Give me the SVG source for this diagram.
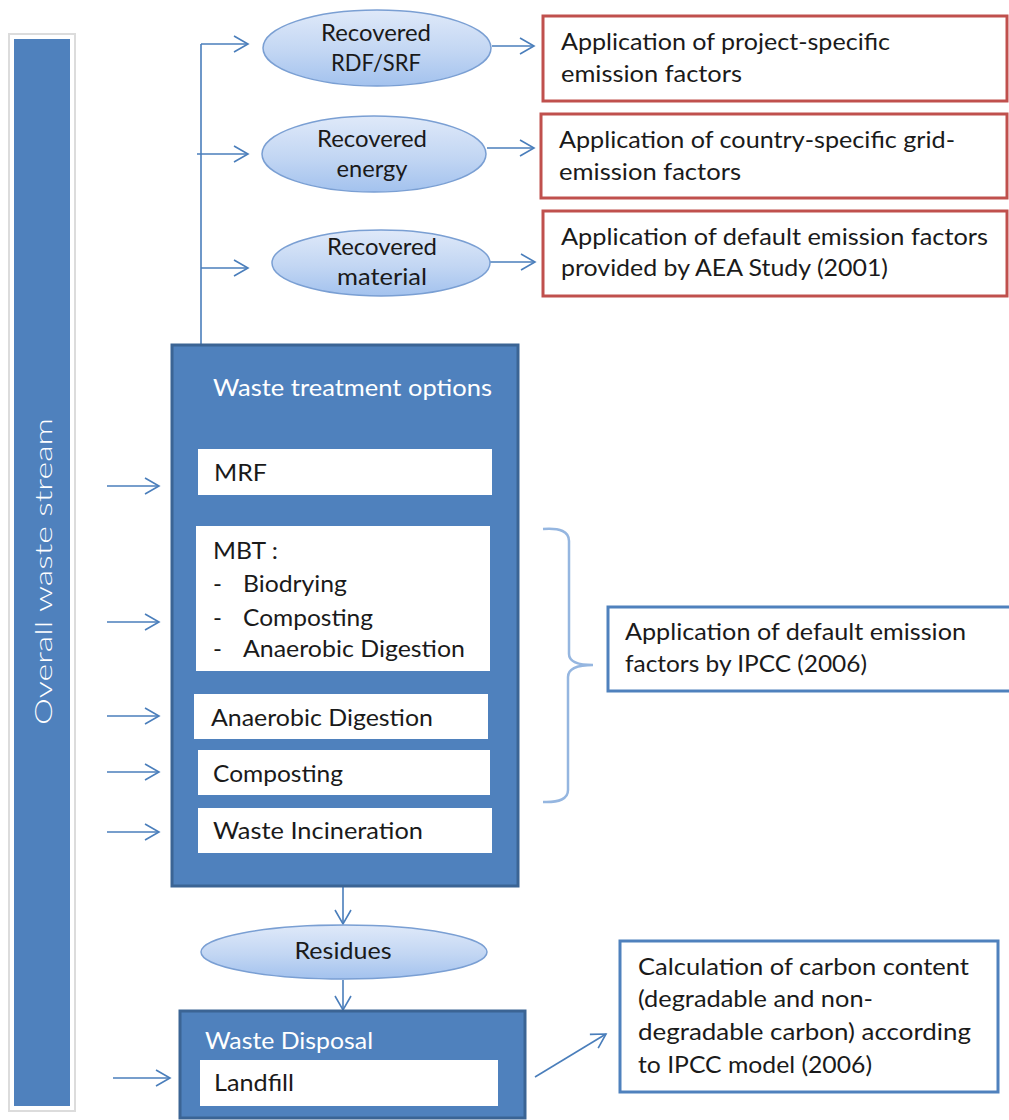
<svg xmlns="http://www.w3.org/2000/svg" width="1009" height="1120" viewBox="0 0 1009 1120">
<defs>
<linearGradient id="ellG" x1="0" y1="0" x2="0" y2="1">
<stop offset="0" stop-color="#dfe9f9"/>
<stop offset="0.55" stop-color="#c2d6f3"/>
<stop offset="1" stop-color="#a3c2ee"/>
</linearGradient>
<marker id="ah" markerUnits="userSpaceOnUse" markerWidth="18" markerHeight="20" refX="15" refY="9" orient="auto">
<path d="M1,1 L15,9 L1,17" fill="none" stroke="#4a7ebb" stroke-width="1.6"/>
</marker>
<style>
.t{font-family:'Lato','Liberation Sans',sans-serif;font-size:24px;fill:#1a1a1a}
.w{fill:#ffffff}
.ell{fill:url(#ellG);stroke:#7a9fd3;stroke-width:1.5}
.red{fill:#ffffff;stroke:#c0504d;stroke-width:3}
.blu{fill:#ffffff;stroke:#4f81bd;stroke-width:3}
.dark{fill:#4f81bd;stroke:#3b6494;stroke-width:3}
.inner{fill:#ffffff}
.c{fill:none;stroke:#4a7ebb;stroke-width:1.6}
.a{fill:none;stroke:#4a7ebb;stroke-width:1.6;marker-end:url(#ah)}
</style>
</defs>

<g id="overall-waste-stream">
<rect x="9" y="34" width="66" height="1077" fill="#ffffff" stroke="#dcdcdc" stroke-width="2"/>
<rect x="14" y="39" width="56" height="1067" fill="#4f81bd"/>
<text class="t w" transform="translate(52,725) rotate(-90)" font-size="32" font-weight="300" textLength="307" lengthAdjust="spacingAndGlyphs">Overall waste stream</text>
</g>

<g id="connectors">
<path class="c" d="M201,345 L201,44"/>
<path class="a" d="M201,44 L248,44"/>
<path class="a" d="M197,154 L248,154"/>
<path class="a" d="M201,268 L248,268"/>
<path class="a" d="M492,46 L534,46"/>
<path class="a" d="M487,148 L534,148"/>
<path class="a" d="M490,262 L535,262"/>
<path class="a" d="M107,486 L159,486"/>
<path class="a" d="M107,622 L159,622"/>
<path class="a" d="M107,716 L159,716"/>
<path class="a" d="M107,772 L159,772"/>
<path class="a" d="M107,832 L159,832"/>
<path class="a" d="M113,1078 L170,1078"/>
<path class="a" d="M343,887 L343,924"/>
<path class="a" d="M343,980 L343,1010"/>
<path class="a" d="M535,1077 L606,1034"/>
<path d="M543,529 Q569,527 569,541 L569,654 Q569,665 593,665 Q568,665 568,677 L568,790 Q568,803 543,802" fill="none" stroke="#95b6e0" stroke-width="2.5"/>
</g>

<g id="recovered-rdf">
<ellipse class="ell" cx="377" cy="48" rx="114" ry="38"/>
<text class="t" x="376" y="41" text-anchor="middle" textLength="110" lengthAdjust="spacingAndGlyphs">Recovered</text>
<text class="t" x="376" y="71" text-anchor="middle" textLength="90" lengthAdjust="spacingAndGlyphs">RDF/SRF</text>
</g>
<g id="recovered-energy">
<ellipse class="ell" cx="374" cy="154" rx="112" ry="38"/>
<text class="t" x="372" y="147" text-anchor="middle" textLength="110" lengthAdjust="spacingAndGlyphs">Recovered</text>
<text class="t" x="372" y="177" text-anchor="middle" textLength="71" lengthAdjust="spacingAndGlyphs">energy</text>
</g>
<g id="recovered-material">
<ellipse class="ell" cx="381" cy="263" rx="109" ry="33"/>
<text class="t" x="382" y="255" text-anchor="middle" textLength="110" lengthAdjust="spacingAndGlyphs">Recovered</text>
<text class="t" x="382" y="285" text-anchor="middle" textLength="90" lengthAdjust="spacingAndGlyphs">material</text>
</g>

<g id="project-specific">
<rect class="red" x="543" y="16" width="464" height="85"/>
<text class="t" x="561" y="50" textLength="329" lengthAdjust="spacingAndGlyphs">Application of project-specific</text>
<text class="t" x="561" y="82" textLength="181" lengthAdjust="spacingAndGlyphs">emission factors</text>
</g>
<g id="country-specific">
<rect class="red" x="541" y="114" width="466" height="84"/>
<text class="t" x="559" y="148" textLength="396" lengthAdjust="spacingAndGlyphs">Application of country-specific grid-</text>
<text class="t" x="559" y="180" textLength="182" lengthAdjust="spacingAndGlyphs">emission factors</text>
</g>
<g id="aea-study">
<rect class="red" x="543" y="211" width="464" height="85"/>
<text class="t" x="561" y="245" textLength="427" lengthAdjust="spacingAndGlyphs">Application of default emission factors</text>
<text class="t" x="561" y="276" textLength="327" lengthAdjust="spacingAndGlyphs">provided by AEA Study (2001)</text>
</g>

<g id="waste-treatment-options">
<rect class="dark" x="172" y="345" width="346" height="541"/>
<text class="t w" x="213" y="396" textLength="279" lengthAdjust="spacingAndGlyphs">Waste treatment options</text>
</g>
<g id="mrf">
<rect class="inner" x="198" y="449" width="294" height="46"/>
<text class="t" x="214" y="481" textLength="53" lengthAdjust="spacingAndGlyphs">MRF</text>
</g>
<g id="mbt">
<rect class="inner" x="196" y="526" width="294" height="145"/>
<text class="t" x="213" y="559" textLength="65" lengthAdjust="spacingAndGlyphs">MBT :</text>
<text class="t" x="213" y="592">-</text>
<text class="t" x="243" y="592" textLength="104" lengthAdjust="spacingAndGlyphs">Biodrying</text>
<text class="t" x="213" y="626">-</text>
<text class="t" x="243" y="626" textLength="130" lengthAdjust="spacingAndGlyphs">Composting</text>
<text class="t" x="213" y="657">-</text>
<text class="t" x="243" y="657" textLength="222" lengthAdjust="spacingAndGlyphs">Anaerobic Digestion</text>
</g>
<g id="anaerobic-digestion">
<rect class="inner" x="194" y="694" width="294" height="45"/>
<text class="t" x="211" y="726" textLength="222" lengthAdjust="spacingAndGlyphs">Anaerobic Digestion</text>
</g>
<g id="composting">
<rect class="inner" x="198" y="750" width="292" height="45"/>
<text class="t" x="213" y="782" textLength="130" lengthAdjust="spacingAndGlyphs">Composting</text>
</g>
<g id="waste-incineration">
<rect class="inner" x="198" y="808" width="294" height="45"/>
<text class="t" x="213" y="839" textLength="210" lengthAdjust="spacingAndGlyphs">Waste Incineration</text>
</g>

<g id="ipcc-default">
<rect class="blu" x="608" y="607" width="403" height="84"/>
<text class="t" x="625" y="640" textLength="341" lengthAdjust="spacingAndGlyphs">Application of default emission</text>
<text class="t" x="625" y="672" textLength="242" lengthAdjust="spacingAndGlyphs">factors by IPCC (2006)</text>
</g>

<g id="residues">
<ellipse class="ell" cx="344" cy="952" rx="143" ry="27"/>
<text class="t" x="343" y="959" text-anchor="middle" textLength="97" lengthAdjust="spacingAndGlyphs">Residues</text>
</g>

<g id="waste-disposal">
<rect class="dark" x="180" y="1011" width="345" height="107"/>
<text class="t w" x="205" y="1049" textLength="168" lengthAdjust="spacingAndGlyphs">Waste Disposal</text>
</g>
<g id="landfill">
<rect class="inner" x="200" y="1060" width="298" height="46"/>
<text class="t" x="214" y="1091" textLength="80" lengthAdjust="spacingAndGlyphs">Landfill</text>
</g>

<g id="carbon-content">
<rect class="blu" x="620" y="941" width="378" height="151"/>
<text class="t" x="638" y="975" textLength="331" lengthAdjust="spacingAndGlyphs">Calculation of carbon content</text>
<text class="t" x="638" y="1007" textLength="235" lengthAdjust="spacingAndGlyphs">(degradable and non-</text>
<text class="t" x="638" y="1040" textLength="333" lengthAdjust="spacingAndGlyphs">degradable carbon) according</text>
<text class="t" x="638" y="1073" textLength="234" lengthAdjust="spacingAndGlyphs">to IPCC model (2006)</text>
</g>
</svg>
